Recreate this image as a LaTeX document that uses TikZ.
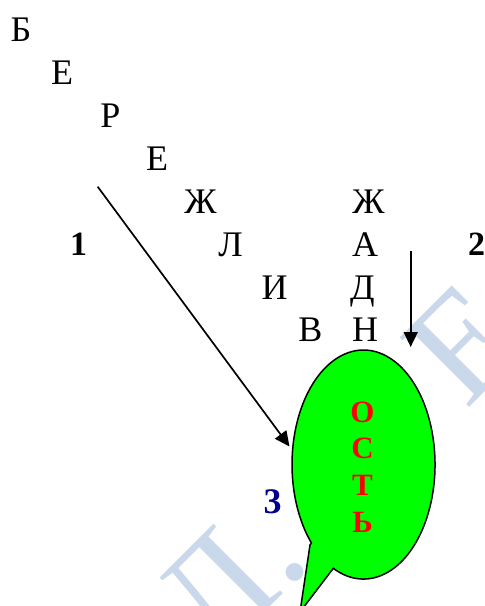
\documentclass[tikz,border=0pt]{standalone}
\usepackage{fontspec}
\setmainfont{Liberation Serif}
\usetikzlibrary{arrows.meta,shapes.geometric}
\definecolor{wmark}{RGB}{202,216,235}
\definecolor{bubgreen}{RGB}{0,255,0}
\definecolor{numblue}{RGB}{0,0,140}
\begin{document}
\begin{tikzpicture}[x=1pt,y=-1pt,
  letter/.style={anchor=base,inner sep=0pt,font=\fontsize{36}{36}\selectfont},
  num/.style={anchor=base,inner sep=0pt,font=\bfseries\fontsize{34}{34}\selectfont},
  redl/.style={anchor=base,inner sep=0pt,text=red,font=\bfseries\fontsize{31}{31}\selectfont},
  arr/.style={line width=1.7pt,-{Triangle[length=15pt,width=14pt]}},
  bubble/.style={draw=black,line width=1.5pt,fill=bubgreen},
  wm/.style={anchor=base west,inner sep=0pt,rotate=45,text=wmark,font=\fontsize{150}{150}\selectfont}]
\useasboundingbox (0,0) rectangle (485,606);
\clip (0,0) rectangle (485,606);
% watermark
\node[wm] (wmk) at (214,663) {Л.\hspace{1.45em}Е};
% diagonal word
\node[letter] (b1) at (21,41) {Б};
\node[letter] (e1) at (62,84) {Е};
\node[letter] (r1) at (110.5,127) {Р};
\node[letter] (e2) at (157,170) {Е};
\node[letter] (zh1) at (200.5,213) {Ж};
\node[letter] (l1) at (230.5,256) {Л};
\node[letter] (i1) at (274.5,299) {И};
\node[letter] (v1) at (310.5,341) {В};
% vertical word
\node[letter] (zh2) at (368.5,213) {Ж};
\node[letter] (a2) at (365,256) {А};
\node[letter] (d2) at (362.5,299) {Д};
\node[letter] (n2) at (365,341) {Н};
% numbers
\node[num] (one) at (78.5,255) {1};
\node[num,anchor=base west] (two) at (468,255) {2};
\node[num,text=numblue,font=\bfseries\fontsize{36}{36}\selectfont] (three) at (272.5,513) {3};
% bubble
\node[ellipse,minimum width=143pt,minimum height=229pt,inner sep=0pt] (bub) at (363.5,464.5) {};
\path[bubble] (310,545) -- (300,612) -- (333.3,568.3)
  arc[start angle=115,end angle=-223.2,x radius=71.5,y radius=114.5] -- cycle;
\node[redl] (o) at (362.5,422) {О};
\node[redl] (s) at (362.5,458.5) {С};
\node[redl] (t) at (362.5,495) {Т};
\node[redl] (soft) at (362.5,532) {Ь};
% arrows
\coordinate (a1s) at (97.7,186.7);
\coordinate (a1e) at (289.5,446.5);
\draw[arr] (a1s) -- (a1e);
\coordinate (a2s) at (410.7,250.5);
\coordinate (a2e) at (410.7,347);
\draw[arr] (a2s) -- (a2e);
\end{tikzpicture}
\end{document}
